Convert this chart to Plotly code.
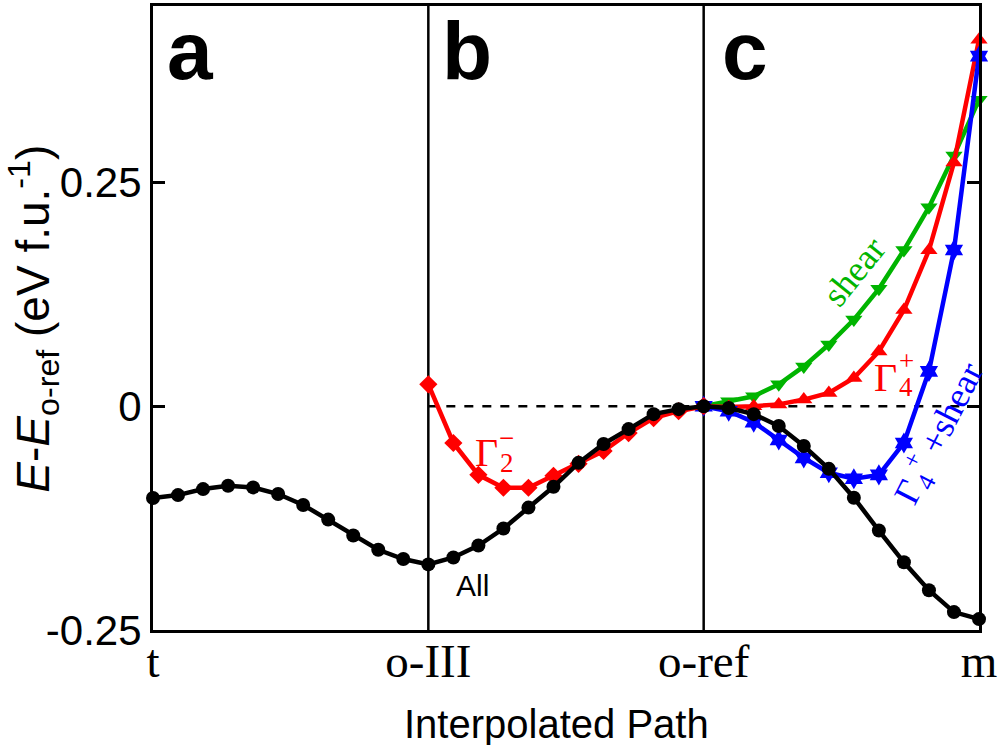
import plotly.graph_objects as go

# ---------------- data ----------------
path_ticks = [0, 1, 2, 3]
path_labels = ["t", "o-III", "o-ref", "m"]

# "All" (black circles), 34 images along t -> o-III -> o-ref -> m
x_all = [i / 11 for i in range(34)]
e_all = [-0.1026, -0.0993, -0.0926, -0.0889, -0.0907, -0.0981, -0.1103, -0.1267,
         -0.1444, -0.1604, -0.1707, -0.1767,
         -0.1690, -0.1556, -0.1367, -0.1133, -0.0900, -0.0633, -0.0422, -0.0256,
         -0.0089, -0.0033, 0.0,
         -0.0020, -0.0089, -0.0222, -0.0444, -0.0700, -0.1022, -0.1389, -0.1744,
         -0.2056, -0.2300, -0.2378]

# Gamma2- (red diamonds), o-III -> o-ref
x_g2 = [1 + i / 11 for i in range(12)]
e_g2 = [0.0244, -0.0411, -0.0767, -0.0911, -0.0911, -0.0778, -0.0644, -0.0500,
        -0.0300, -0.0133, -0.0056, 0.0]

# o-ref -> m branches
x_c = [2 + i / 11 for i in range(12)]
e_shear = [0.0, 0.0056, 0.0111, 0.0244, 0.0444, 0.0689, 0.0967, 0.1311, 0.1744,
           0.2222, 0.2800, 0.3422]
e_g4 = [0.0, -0.0010, 0.0, 0.0020, 0.0074, 0.0148, 0.0315, 0.0611, 0.1074,
        0.1741, 0.2722, 0.4093]
e_g4shear = [0.0, -0.0056, -0.0178, -0.0378, -0.0578, -0.0744, -0.0811, -0.0767,
             -0.0411, 0.0389, 0.1744, 0.3910]

y_ticks = [-0.25, 0, 0.25]
y_ticklabels = ["-0.25", "0", "0.25"]

# ---------------- figure ----------------
RED = "#ff0000"
GREEN = "#00b400"
BLUE = "#0000ff"
SERIF = "Liberation Serif, Times New Roman, serif"
SANS = "Liberation Sans, Arial, Helvetica, sans-serif"

W, H = 1000, 745
L, R, T, B = 153, 20, 3, 115
pw, ph = W - L - R, H - T - B

fig = go.Figure()

# reference lines
fig.add_shape(type="line", x0=1, x1=3, y0=0, y1=0, xref="x", yref="y",
              line=dict(color="black", width=2.5, dash="dash"), layer="below")
for xv in [1, 2]:
    fig.add_shape(type="line", x0=xv, x1=xv, y0=0, y1=1, xref="x", yref="paper",
                  line=dict(color="black", width=2.5), layer="below")

def add(x, y, color, symbol, size):
    fig.add_trace(go.Scatter(x=x, y=y, mode="lines+markers",
                             line=dict(color=color, width=4.5),
                             marker=dict(color=color, symbol=symbol, size=size,
                                         line=dict(width=0)),
                             cliponaxis=False, showlegend=False))

add(x_c, e_shear, GREEN, "triangle-down", 15)
add(x_c, e_g4, RED, "triangle-up", 15)
add(x_c, e_g4shear, BLUE, "hexagram", 16)
add(x_g2, e_g2, RED, "diamond", 14)
add(x_all, e_all, "black", "circle", 14)

ann = []
def txt(x, y, s, color="black", size=34, family=SERIF, angle=0, **kw):
    ann.append(dict(x=x, y=y, xref="x", yref="y", text=s, showarrow=False,
                    xanchor="center", yanchor="middle",
                    font=dict(color=color, size=size, family=family),
                    textangle=angle, **kw))

# panel labels
for xv, lab in [(0.135, "a"), (1.14, "b"), (2.15, "c")]:
    ann.append(dict(x=xv, y=1.0, xref="x", yref="paper", text="<b>%s</b>" % lab,
                    xanchor="center", yanchor="top", yshift=3,
                    showarrow=False, font=dict(size=82, family=SANS, color="black")))

# curve labels
txt(1.16, -0.20, "All", size=30, family=SANS)
txt(1.21, -0.052, "Γ", RED, 40)
txt(1.285, -0.035, "−", RED, 27)
txt(1.285, -0.064, "2", RED, 27)
txt(2.545, 0.15, "shear", GREEN, 36, angle=-51)
txt(2.66, 0.032, "Γ", RED, 40)
txt(2.735, 0.050, "+", RED, 27)
txt(2.735, 0.021, "4", RED, 27)
txt(2.853, -0.03, "Γ<sub>4</sub><sup>+</sup> +shear", BLUE, 36, angle=-63)

# axis titles as annotations (paper coordinates from pixel positions)
ann.append(dict(x=(557 - L) / pw, y=-(724 - (H - B)) / ph, xref="paper", yref="paper",
                xanchor="center", yanchor="middle", text="Interpolated Path",
                showarrow=False, font=dict(size=40, family=SANS, color="black")))
ann.append(dict(x=(33 - L) / pw, y=((H - B) - 317) / ph, xref="paper", yref="paper",
                xanchor="center", yanchor="middle",
                text="<i>E</i>-<i>E</i><sub>o-ref</sub> (eV f.u.<sup>-1</sup>)",
                textangle=-90, showarrow=False,
                font=dict(size=46, family=SANS, color="black")))

fig.update_layout(
    width=W, height=H,
    margin=dict(l=L, r=R, t=T, b=B),
    plot_bgcolor="white", paper_bgcolor="white",
    annotations=ann,
    xaxis=dict(range=[0, 3], tickvals=path_ticks, ticktext=path_labels,
               showgrid=False, zeroline=False, showline=True, linecolor="black",
               linewidth=3, mirror=True, ticks="", ticklabelstandoff=-12,
               tickfont=dict(size=47, family=SERIF, color="black")),
    yaxis=dict(range=[-0.25, 0.447], tickvals=y_ticks, ticktext=y_ticklabels,
               showgrid=False, zeroline=False, showline=True, linecolor="black",
               linewidth=3, mirror="ticks", ticks="inside", ticklen=12, tickwidth=2.5,
               tickcolor="black", tickfont=dict(size=42, family=SANS, color="black")),
)

fig.write_html("out.html")
